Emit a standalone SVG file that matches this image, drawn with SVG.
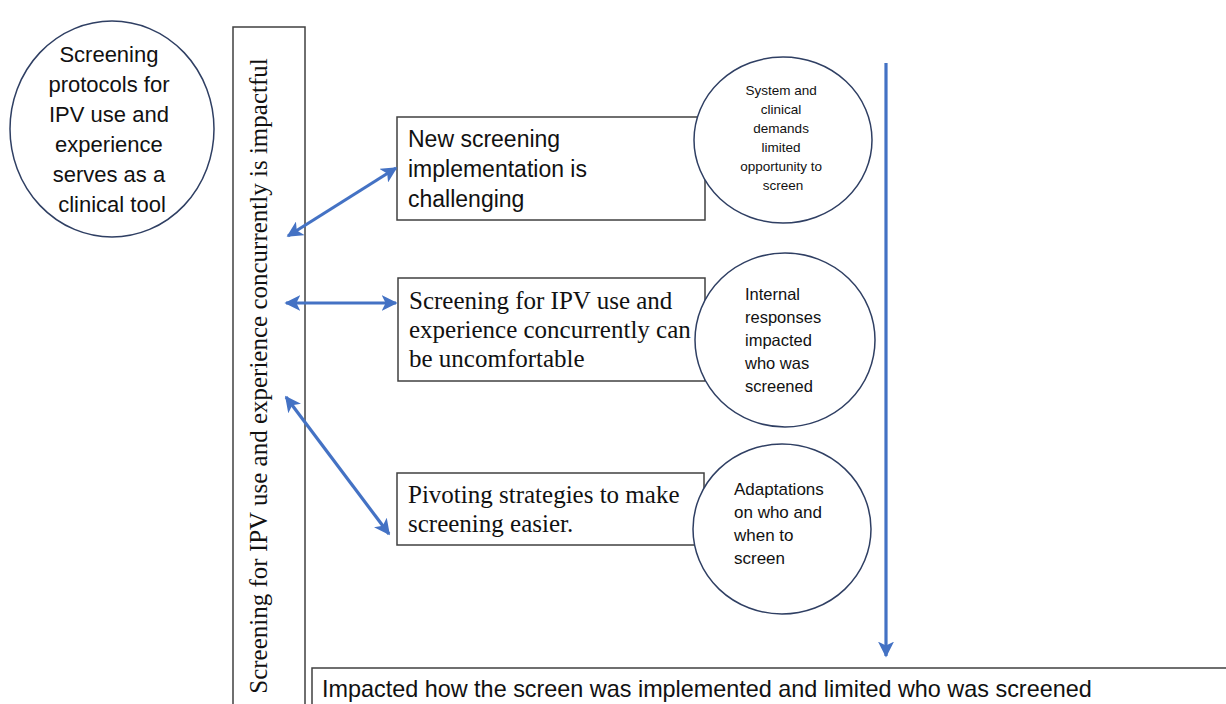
<svg xmlns="http://www.w3.org/2000/svg" width="1226" height="704" viewBox="0 0 1226 704">
<defs>
<style>
.box{fill:#fff;stroke:#404040;stroke-width:1.5}
.circ{fill:#fff;stroke:#2f3f63;stroke-width:1.5}
.sans{font-family:"Liberation Sans",Arial,sans-serif;fill:#111}
.serif{font-family:"Liberation Serif","Times New Roman",serif;fill:#111}
.conn{stroke:#4472c4;stroke-width:3.2;fill:none}
</style>
<marker id="ah" viewBox="0 0 10 10" refX="9" refY="5" markerWidth="5" markerHeight="5" orient="auto-start-reverse" markerUnits="strokeWidth">
<path d="M0,0 L10,5 L0,10 L2.5,5 Z" fill="#4472c4"/>
</marker>
</defs>
<rect width="1226" height="704" fill="#fff"/>

<g id="node-tool">
<ellipse class="circ" cx="112" cy="129" rx="102" ry="108"/>
<text class="sans" font-size="22" text-anchor="middle">
<tspan x="112" y="62">Screening</tspan>
<tspan x="112" y="92">protocols for</tspan>
<tspan x="112" y="122">IPV use and</tspan>
<tspan x="112" y="152">experience</tspan>
<tspan x="112" y="182">serves as a</tspan>
<tspan x="112" y="212">clinical tool</tspan>
</text>
</g>

<g id="node-impactful">
<rect class="box" x="233" y="27" width="72" height="690"/>
<text class="serif" font-size="25" text-anchor="middle" transform="translate(267,376) rotate(-90)">Screening for IPV use and experience concurrently is impactful</text>
</g>

<g id="node-bottom">
<rect class="box" x="312" y="668" width="930" height="50"/>
<text class="sans" font-size="23.4" x="322" y="697">Impacted how the screen was implemented and limited who was screened</text>
</g>

<g id="node-challenging">
<rect class="box" x="397" y="117" width="308" height="103"/>
<text class="sans" font-size="23">
<tspan x="408" y="147">New screening</tspan>
<tspan x="408" y="177">implementation is</tspan>
<tspan x="408" y="207">challenging</tspan>
</text>
</g>

<g id="node-demands">
<ellipse class="circ" cx="783" cy="140" rx="89" ry="83"/>
<text class="sans" font-size="13.5" text-anchor="middle">
<tspan x="783" y="95">System and</tspan>
<tspan x="783" y="114">clinical</tspan>
<tspan x="783" y="133">demands</tspan>
<tspan x="783" y="152">limited</tspan>
<tspan x="783" y="171">opportunity to</tspan>
<tspan x="783" y="190">screen</tspan>
</text>
</g>

<g id="node-uncomfortable">
<rect class="box" x="398" y="278" width="307" height="103"/>
<text class="serif" font-size="25">
<tspan x="409" y="309">Screening for IPV use and</tspan>
<tspan x="409" y="338">experience concurrently can</tspan>
<tspan x="409" y="367">be uncomfortable</tspan>
</text>
</g>

<g id="node-internal">
<ellipse class="circ" cx="785" cy="340" rx="90" ry="87"/>
<text class="sans" font-size="16.5">
<tspan x="745" y="300">Internal</tspan>
<tspan x="745" y="323">responses</tspan>
<tspan x="745" y="346">impacted</tspan>
<tspan x="745" y="369">who was</tspan>
<tspan x="745" y="392">screened</tspan>
</text>
</g>

<g id="node-pivoting">
<rect class="box" x="397" y="473" width="307" height="72"/>
<text class="serif" font-size="25">
<tspan x="408" y="503">Pivoting strategies to make</tspan>
<tspan x="408" y="532">screening easier.</tspan>
</text>
</g>

<g id="node-adaptations">
<ellipse class="circ" cx="782" cy="529" rx="89" ry="85"/>
<text class="sans" font-size="17">
<tspan x="734" y="495">Adaptations</tspan>
<tspan x="734" y="518">on who and</tspan>
<tspan x="734" y="541">when to</tspan>
<tspan x="734" y="564">screen</tspan>
</text>
</g>

<g id="connectors">
<line class="conn" x1="288" y1="236" x2="396" y2="168" marker-start="url(#ah)" marker-end="url(#ah)"/>
<line class="conn" x1="286" y1="303" x2="396" y2="303" marker-start="url(#ah)" marker-end="url(#ah)"/>
<line class="conn" x1="286" y1="397" x2="389" y2="534" marker-start="url(#ah)" marker-end="url(#ah)"/>
<line class="conn" x1="886" y1="63" x2="886" y2="656" marker-end="url(#ah)"/>
</g>
</svg>
